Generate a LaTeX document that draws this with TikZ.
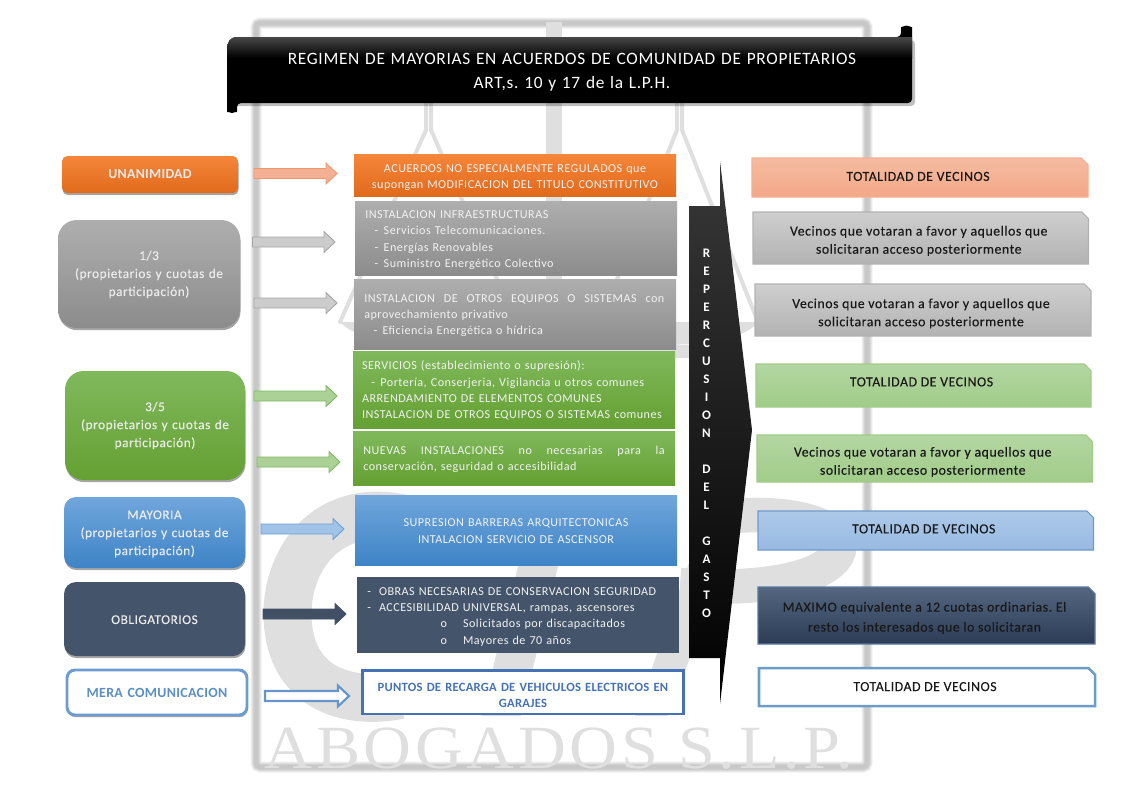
\documentclass[tikz,border=0pt]{standalone}
\usepackage{fontspec}
\setmainfont{Carlito}
\newfontfamily\wmfont[LetterSpace=6,FakeStretch=1.08]{Liberation Serif}
\newfontfamily\bodyf[LetterSpace=4]{Carlito}
\newfontfamily\medf[LetterSpace=4,FakeBold=0.25]{Carlito}
\newfontfamily\boldf[LetterSpace=2]{Carlito Bold}
\usetikzlibrary{calc,shadows,shapes.misc}
\frenchspacing
\definecolor{wm}{HTML}{DFDFDF}
\definecolor{navy}{HTML}{44546A}
\newcommand\boxnode[7]{%
  \pgfmathsetmacro\cxx{(#2+#4)/2}\pgfmathsetmacro\cyy{(#3+#5)/2}%
  \pgfmathsetmacro\ww{(#4-#2)*0.75}\pgfmathsetmacro\hh{(#5-#3)*0.75}%
  \node[#6,minimum width=\ww pt,minimum height=\hh pt,inner sep=0pt] (#1) at (\cxx,\cyy) {#7};}
\newcommand\rtxt[2]{\smash{\raisebox{\dimexpr #1-3.2pt\relax}{\hspace*{-3pt}\parbox[c]{230pt}{\centering #2}}}}
\newcommand\dropt[1]{\rule{0pt}{\dimexpr 7pt+#1\relax}}
\tikzset{
  softshadow/.style={drop shadow={shadow xshift=0.4pt,shadow yshift=-1.6pt,opacity=.35,fill=black}},
  lbox/.style={rounded corners=#1,softshadow,align=center,text=white!92!black,text width=130pt,
    font=\fontsize{10}{13.5}\selectfont\medf},
  lbox/.default=10pt,
  cbox/.style={align=left,text=white!95!black,text width=226pt,font=\fontsize{9.1}{12.2}\selectfont\bodyf},
  rbox/.style={chamfered rectangle,chamfered rectangle corners=north east,chamfered rectangle xsep=5pt,chamfered rectangle ysep=5pt,
    text=black!90,line width=.8pt,font=\fontsize{10.35}{13.6}\selectfont\medf},
  barrow/.style={line width=.7pt,to path={let \p1=(\tikztostart),\p2=(\tikztotarget) in
    (\x1,\y1+3.75pt) -- (\x2-8.25pt,\y1+3.75pt) -- (\x2-8.25pt,\y1+7.8pt) -- (\x2,\y1) --
    (\x2-8.25pt,\y1-7.8pt) -- (\x2-8.25pt,\y1-3.75pt) -- (\x1,\y1-3.75pt) -- cycle}},
  grayfill/.style={top color={rgb,255:red,174;green,174;blue,174},bottom color={rgb,255:red,140;green,140;blue,140}},
  greenfill/.style={top color={rgb,255:red,128;green,185;blue,92},bottom color={rgb,255:red,100;green,160;blue,50}},
  bluefill/.style={top color={rgb,255:red,112;green,166;blue,220},bottom color={rgb,255:red,62;green,132;blue,198}},
  orangefill/.style={top color={rgb,255:red,245;green,134;blue,58},bottom color={rgb,255:red,225;green,106;blue,28}},
  rgray/.style={top color=black!19,bottom color=black!30,draw=black!30},
  rgreen/.style={top color={rgb,255:red,180;green,214;blue,162},bottom color={rgb,255:red,160;green,204;blue,136},draw={rgb,255:red,160;green,204;blue,136}},
  agray/.style={fill=black!20,draw=black!35},
  agreen/.style={fill={rgb,255:red,172;green,209;blue,150},draw={rgb,255:red,130;green,185;blue,100}},
}
\begin{document}
\begin{tikzpicture}[x=0.75pt,y=-0.75pt]
\useasboundingbox (0,0) rectangle (1123,794);
% --- watermark ---
\foreach \w in {11,9,7,5}{\draw[black,opacity=.06,line width=\w*0.75pt,rounded corners=3pt] (256,23) rectangle (867,767);}
\fill[wm] (546,22) rectangle (562,360);
\begin{scope}[wm,line width=3pt,line cap=round]
  \draw (426,103) -- (426,130) -- (340,322); \draw (431,103) -- (431,130) -- (516,322);
  \draw (677,103) -- (677,130) -- (600,322); \draw (682,103) -- (682,130) -- (758,322);
  \fill (340,322) -- (516,322) .. controls (490,352) and (366,352) .. cycle;
  \fill (600,322) -- (758,322) .. controls (735,352) and (622,352) .. cycle;
  \fill (480,345) rectangle (700,358);
\end{scope}
% logo
\draw[wm,line width=36pt] (425,525) .. controls (330,490) and (282,560) .. (288,625) .. controls (294,690) and (350,705) .. (400,695);
\fill[wm] (481,716) -- (521,716) -- (575,498) -- (535,498) -- cycle;
\fill[wm] (635,716) -- (668,716) -- (750,498) -- (712,498) -- cycle;
\draw[wm,line width=26pt] (720,517) .. controls (885,500) and (885,600) .. (680,585);
\node[text=wm,font=\fontsize{46}{50}\selectfont\wmfont,inner sep=0pt] (wmtext) at (559,749) {ABOGADOS S.L.P.};
% --- title ---
\fill[black,opacity=.25,rounded corners=3pt] (232,40) rectangle (915,106);
\begin{scope}
  \clip[rounded corners=3pt] (227,44) -- (232,37) -- (901,37) -- (901,31) arc (180:360:5.5) -- (912,103) -- (237,103) -- (237,108) arc (0:180:5) -- cycle;
  \fill[black] (220,20) rectangle (920,120);
  \shade[top color=black!72,bottom color=black] (225,37) rectangle (914,58);
\end{scope}
\boxnode{title}{245}{42}{899}{103}{align=center,text=white,text width=490pt,font=\fontsize{13}{18}\selectfont\bodyf}{REGIMEN DE MAYORIAS EN ACUERDOS DE COMUNIDAD DE PROPIETARIOS\\ART,s. 10 y 17 de la L.P.H.}
% --- left column ---
\boxnode{unan}{62}{156}{238}{193}{lbox=4pt,orangefill,font=\fontsize{10.4}{13.5}\selectfont\boldf}{UNANIMIDAD}
\boxnode{tercio}{58}{220}{240}{328}{lbox=14pt,grayfill}{\dropt{.5pt}1/3\\(propietarios y cuotas de\\participación)}
\boxnode{tresq}{65}{371}{245}{480}{lbox=14pt,greenfill}{3/5\\(propietarios y cuotas de\\participación)}
\boxnode{mayor}{64}{497}{245}{568}{lbox=9pt,bluefill}{\dropt{1.5pt}MAYORIA\\(propietarios y cuotas de\\participación)}
\boxnode{oblig}{64}{582}{245}{656}{lbox=9pt,fill=navy}{\dropt{.5pt}OBLIGATORIOS}
\boxnode{mera}{67}{670}{247}{715}{lbox=6pt,fill=white,draw={rgb,255:red,108;green,156;blue,208},line width=2.2pt,text={rgb,255:red,91;green,143;blue,197},font=\fontsize{10.5}{13.5}\selectfont\boldf}{MERA COMUNICACION}
% --- centre column ---
\boxnode{c1}{354}{154}{676}{196}{cbox,align=center,orangefill}{\dropt{2.5pt}ACUERDOS NO ESPECIALMENTE REGULADOS que\\supongan MODIFICACION DEL TITULO CONSTITUTIVO}
\boxnode{c2}{355}{201}{677}{275}{cbox,grayfill}{\dropt{2pt}INSTALACION INFRAESTRUCTURAS\\\hspace*{7pt}-\hspace{4pt}Servicios Telecomunicaciones.\\\hspace*{7pt}-\hspace{4pt}Energías Renovables\\\hspace*{7pt}-\hspace{4pt}Suministro Energético Colectivo}
\boxnode{c3}{354}{279}{676}{349}{cbox,grayfill}{\dropt{1.5pt}\hbox to 225pt{INSTALACION\hfill DE\hfill OTROS\hfill EQUIPOS\hfill O\hfill SISTEMAS\hfill con}\\aprovechamiento privativo\\\hspace*{7pt}-\hspace{4pt}Eficiencia Energética o hídrica}
\boxnode{c4}{353}{351}{675}{428}{cbox,text width=228pt,greenfill}{\dropt{1.5pt}SERVICIOS (establecimiento o supresión):\\\hspace*{7pt}-\hspace{4pt}Portería, Conserjeria, Vigilancia u otros comunes\\ARRENDAMIENTO DE ELEMENTOS COMUNES\\INSTALACION DE OTROS EQUIPOS O SISTEMAS comunes}
\boxnode{c5}{353}{431}{675}{485}{cbox,greenfill}{\dropt{1.5pt}\hbox to 226pt{NUEVAS\hfill INSTALACIONES\hfill no\hfill necesarias\hfill para\hfill la}\\conservación, seguridad o accesibilidad}
\boxnode{c6}{355}{495}{677}{565}{cbox,align=center,bluefill}{\dropt{.5pt}SUPRESION BARRERAS ARQUITECTONICAS\\INTALACION SERVICIO DE ASCENSOR}
\boxnode{c7}{357}{577}{679}{653}{cbox,fill=navy}{\dropt{1.5pt}-\hspace{6pt}OBRAS NECESARIAS DE CONSERVACION SEGURIDAD\\-\hspace{6pt}ACCESIBILIDAD UNIVERSAL, rampas, ascensores\\\hspace*{55pt}o\hspace{12pt}Solicitados por discapacitados\\\hspace*{55pt}o\hspace{12pt}Mayores de 70 años}
\boxnode{c8}{362.5}{670.5}{683.5}{714}{cbox,align=center,fill=white,draw={rgb,255:red,68;green,114;blue,180},line width=1.7pt,text={rgb,255:red,68;green,114;blue,180},font=\fontsize{9.45}{12.2}\selectfont\boldf}{\dropt{4pt}PUNTOS DE RECARGA DE VEHICULOS ELECTRICOS EN\\GARAJES}
% --- arrows ---
\coordinate (a1s) at (254,173.5); \coordinate (a1e) at (337,173.5);
\coordinate (a2s) at (252.5,242); \coordinate (a2e) at (335,242);
\coordinate (a3s) at (254,303); \coordinate (a3e) at (337,303);
\coordinate (a4s) at (254,396); \coordinate (a4e) at (337,396);
\coordinate (a5s) at (257,462); \coordinate (a5e) at (340,462);
\coordinate (a6s) at (261,529); \coordinate (a6e) at (344,529);
\coordinate (a7s) at (263,614); \coordinate (a7e) at (346,614);
\coordinate (a8s) at (265,696); \coordinate (a8e) at (349,696);
\draw[barrow,fill={rgb,255:red,244;green,176;blue,146},draw={rgb,255:red,240;green,150;blue,110}] (a1s) to (a1e);
\draw[barrow,agray] (a2s) to (a2e);
\draw[barrow,agray] (a3s) to (a3e);
\draw[barrow,agreen] (a4s) to (a4e);
\draw[barrow,agreen] (a5s) to (a5e);
\draw[barrow,fill={rgb,255:red,160;green,195;blue,232},draw={rgb,255:red,110;green,160;blue,215}] (a6s) to (a6e);
\draw[barrow,fill=navy!95!black,draw=navy] (a7s) to (a7e);
\draw[barrow,fill=white,draw={rgb,255:red,100;green,150;blue,205},line width=1.6pt] (a8s) to (a8e);
% --- central callout ---
\shade[top color=black!78,bottom color=black] (689,206) -- (720,206) -- (720,161) -- (752,430) -- (720,704) -- (720,658) -- (689,658) -- cycle;
\node[align=center,text=white,font=\fontsize{9.8}{13.5}\selectfont\boldf,inner sep=0pt] (rep) at (706.5,433.5) {R\\E\\P\\E\\R\\C\\U\\S\\I\\O\\N\\ \\D\\E\\L\\ \\G\\A\\S\\T\\O};
% --- right column ---
\boxnode{r1}{752}{158}{1088}{197}{rbox,top color={rgb,255:red,245;green,187;blue,160},bottom color={rgb,255:red,244;green,168;blue,136},draw={rgb,255:red,244;green,176;blue,146}}{\rtxt{1.5pt}{TOTALIDAD DE VECINOS}}
\boxnode{r2}{753}{212}{1088.5}{264}{rbox,rgray}{\rtxt{-1.5pt}{Vecinos que votaran a favor y aquellos que\\solicitaran acceso posteriormente}}
\boxnode{r3}{755}{284}{1091}{336}{rbox,rgray}{\rtxt{-1.9pt}{Vecinos que votaran a favor y aquellos que\\solicitaran acceso posteriormente}}
\boxnode{r4}{756}{364}{1091}{407}{rbox,rgreen}{\rtxt{3.4pt}{TOTALIDAD DE VECINOS}}
\boxnode{r5}{757}{435}{1092.5}{482}{rbox,rgreen}{\rtxt{-1.9pt}{Vecinos que votaran a favor y aquellos que\\solicitaran acceso posteriormente}}
\boxnode{r6}{758}{511}{1093.5}{550}{rbox,top color={rgb,255:red,172;green,201;blue,232},bottom color={rgb,255:red,152;green,186;blue,226},draw={rgb,255:red,110;green,155;blue,205}}{\rtxt{1.9pt}{TOTALIDAD DE VECINOS}}
\boxnode{r7}{758}{587}{1095}{644}{rbox,top color={rgb,255:red,84;green,102;blue,128},bottom color={rgb,255:red,44;green,60;blue,86},draw={rgb,255:red,90;green,120;blue,160},font=\fontsize{10.35}{15}\selectfont\medf}{\rtxt{-1.1pt}{MAXIMO equivalente a 12 cuotas ordinarias. El\\resto los interesados que lo solicitaran}}
\boxnode{r8}{759}{668}{1095}{706}{rbox,fill=white,draw={rgb,255:red,108;green,156;blue,200},line width=1.9pt}{\rtxt{1pt}{TOTALIDAD DE VECINOS}}
\end{tikzpicture}
\end{document}
